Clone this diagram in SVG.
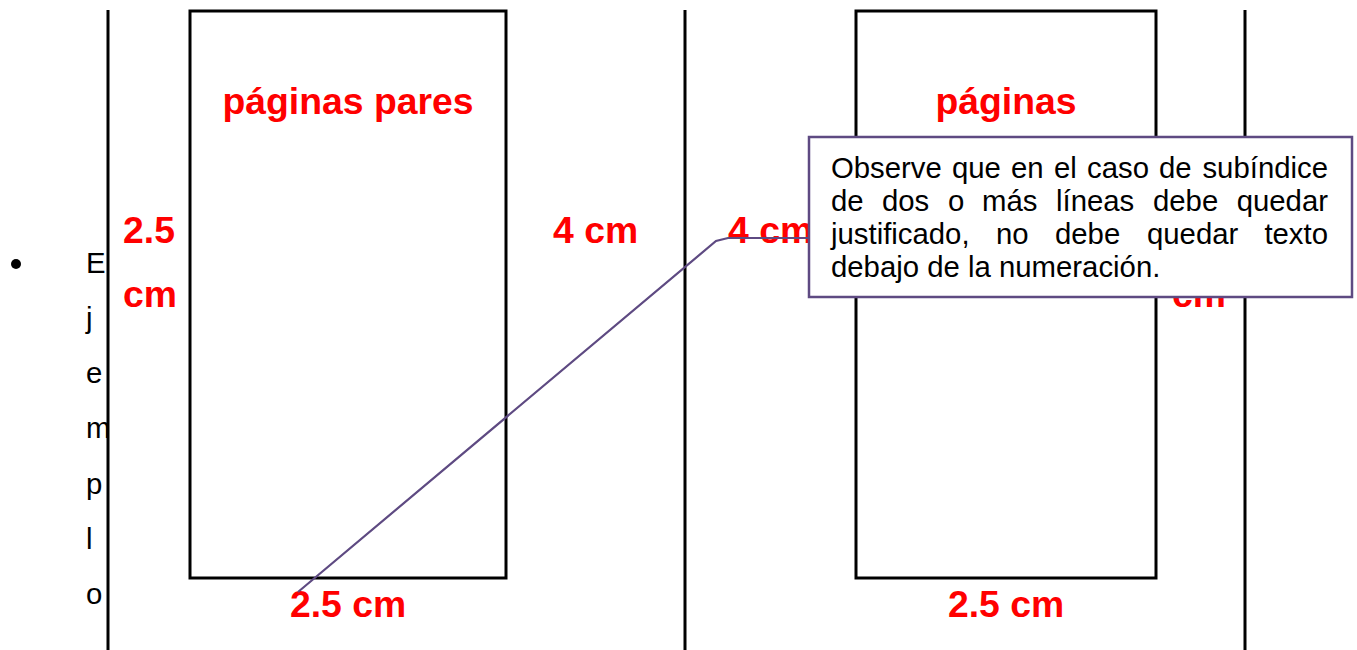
<svg xmlns="http://www.w3.org/2000/svg" width="1357" height="650" viewBox="0 0 1357 650">
<style>
.red{font-family:"Liberation Sans",Arial,sans-serif;font-weight:bold;font-size:37.33px;fill:#ff0000}
.body{font-family:"Liberation Sans",Arial,sans-serif;font-size:29.33px;fill:#000}
.vline{stroke:#000;stroke-width:3}
.page{fill:none;stroke:#000;stroke-width:3}
.conn{fill:none;stroke:#5e4a82;stroke-width:2.2}
.callout{fill:#fff;stroke:#5e4a82;stroke-width:2.5}
</style>
<rect width="1357" height="650" fill="#fff"/>
<g id="ejemplo">
<circle cx="16" cy="264" r="5" fill="#000"/>
<text class="body" x="86" y="273">E</text>
<text class="body" x="86" y="328">j</text>
<text class="body" x="86" y="383">e</text>
<text class="body" x="86" y="438">m</text>
<text class="body" x="86" y="494">p</text>
<text class="body" x="86" y="549">l</text>
<text class="body" x="86" y="604">o</text>
</g>
<g id="guides">
<line class="vline" x1="108" y1="10" x2="108" y2="650"/>
<line class="vline" x1="685" y1="10" x2="685" y2="650"/>
<line class="vline" x1="1245" y1="10" x2="1245" y2="650"/>
</g>
<g id="page-left">
<rect class="page" x="190" y="11" width="316" height="567"/>
<text class="red" x="348" y="114" text-anchor="middle">páginas pares</text>
<text class="red" x="123" y="243">2.5</text>
<text class="red" x="123" y="307">cm</text>
<text class="red" x="553" y="243">4 cm</text>
<text class="red" x="348" y="617" text-anchor="middle">2.5 cm</text>
</g>
<g id="page-right">
<rect class="page" x="856" y="11" width="300" height="567"/>
<text class="red" x="1006" y="114" text-anchor="middle">páginas</text>
<text class="red" x="728" y="243">4 cm</text>
<text class="red" x="1172" y="307">cm</text>
<text class="red" x="1006" y="617" text-anchor="middle">2.5 cm</text>
</g>
<g id="connectors">
<polyline class="conn" points="298,592 716,241 728,238 809,238"/>
</g>
<g id="callout">
<rect class="callout" x="809" y="137" width="543" height="160"/>
<text class="body" y="178"><tspan x="831">Observe</tspan><tspan x="952">que</tspan><tspan x="1011">en</tspan><tspan x="1054">el</tspan><tspan x="1087">caso</tspan><tspan x="1159">de</tspan><tspan x="1328" text-anchor="end">subíndice</tspan></text>
<text class="body" y="211"><tspan x="831">de</tspan><tspan x="882">dos</tspan><tspan x="948">o</tspan><tspan x="982">más</tspan><tspan x="1056">líneas</tspan><tspan x="1153">debe</tspan><tspan x="1328" text-anchor="end">quedar</tspan></text>
<text class="body" y="244"><tspan x="831">justificado,</tspan><tspan x="996">no</tspan><tspan x="1055">debe</tspan><tspan x="1147">quedar</tspan><tspan x="1328" text-anchor="end">texto</tspan></text>
<text class="body" x="831" y="277">debajo de la numeración.</text>
</g>
</svg>
